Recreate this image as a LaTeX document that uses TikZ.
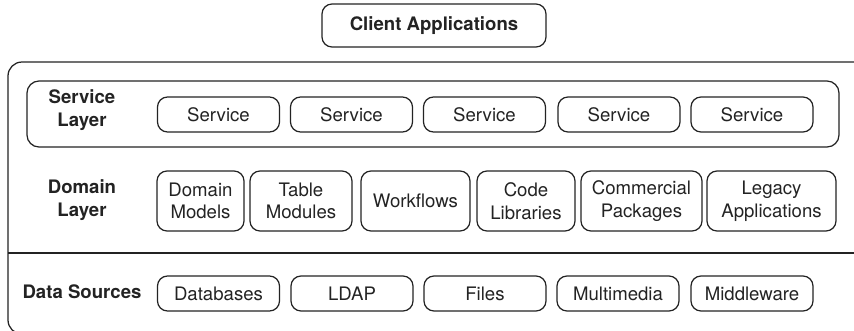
\documentclass[tikz,border=0pt]{standalone}
\usepackage{fontspec}
\setmainfont{TeX Gyre Heros}
\definecolor{ink}{RGB}{35,35,35}
\begin{document}
\begin{tikzpicture}[x=1pt,y=-1pt,
  every node/.style={font=\fontsize{18.6}{22.5}\selectfont, text=ink, align=center},
  item/.style={draw=ink, line width=1.25pt, rounded corners=10pt, inner sep=0pt},
  svc/.style={item, minimum width=122pt, minimum height=35pt},
  dom/.style={item, minimum height=60pt},
  lbl/.style={font=\fontsize{18.6}{22.5}\selectfont\bfseries},
  frame/.style={draw=ink, line width=1.25pt}]
  \useasboundingbox (0,0) rectangle (854,330);
  \begin{scope}
    \clip (0,0) rectangle (854,330);
    % outer container, open to the right and cut at the bottom
    \draw[frame, rounded corners=14pt] (870,62) -- (8,62) -- (8,334) -- (870,334);
    % separator between domain layer and data sources
    \draw[frame] (8,253) -- (870,253);
  \end{scope}

  \node[item, minimum width=224pt, minimum height=43pt, font=\fontsize{18.6}{22.5}\selectfont\bfseries] (client) at (434,25.5) {Client Applications};

  % service layer
  \draw[frame, rounded corners=12pt] (27,81) rectangle (839,147);
  \node[lbl] (svclbl) at (82,110) {Service\\Layer};
  \node[svc] (s1) at (218.5,114.5) {Service};
  \node[svc] (s2) at (351.5,114.5) {Service};
  \node[svc] (s3) at (484.5,114.5) {Service};
  \node[svc] (s4) at (619,114.5) {Service};
  \node[svc] (s5) at (752,114.5) {Service};

  % domain layer
  \node[lbl] (domlbl) at (82,200) {Domain\\Layer};
  \node[dom, minimum width=87pt] (d1) at (200.5,201) {Domain\\Models};
  \node[dom, minimum width=102pt] (d2) at (301,201) {Table\\Modules};
  \node[dom, minimum width=109pt] (d3) at (415.5,201) {Workflows};
  \node[dom, minimum width=98pt] (d4) at (526,201) {Code\\Libraries};
  \node[dom, minimum width=121pt] (d5) at (641.5,201) {Commercial\\Packages};
  \node[dom, minimum width=129pt] (d6) at (771.5,201) {Legacy\\Applications};

  % data sources
  \node[lbl] (datalbl) at (82,292) {Data Sources};
  \node[svc] (x1) at (218.5,293.5) {Databases};
  \node[svc] (x2) at (352,293.5) {LDAP};
  \node[svc] (x3) at (485,293.5) {Files};
  \node[svc] (x4) at (618,293.5) {Multimedia};
  \node[svc] (x5) at (752,293.5) {Middleware};
\end{tikzpicture}
\end{document}
